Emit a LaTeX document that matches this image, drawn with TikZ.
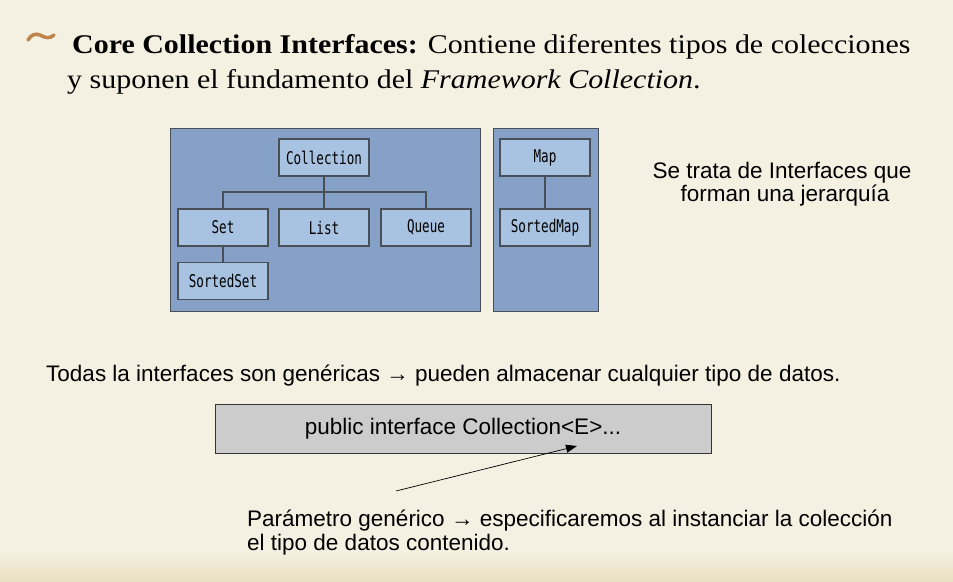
\documentclass[tikz,border=0pt]{standalone}
\usepackage{fontspec}
\setmainfont[FakeStretch=1.11]{Liberation Serif}
\newfontfamily\sansfont{Liberation Sans}
\newfontfamily\codefont[FakeStretch=0.72]{DejaVu Sans Mono}
\usetikzlibrary{arrows.meta}
\definecolor{paper}{HTML}{F5F1E2}
\definecolor{paperdark}{HTML}{E9E0C0}
\definecolor{panelblue}{HTML}{86A1C8}
\definecolor{boxblue}{HTML}{A8C2E2}
\definecolor{edgegray}{HTML}{4A4E56}
\definecolor{codegray}{HTML}{CCCCCC}
\definecolor{bullet}{HTML}{BF8449}
\tikzset{
  panel/.style={fill=panelblue, draw=edgegray, line width=0.8pt},
  iface/.style={fill=boxblue, draw=edgegray, line width=1.4pt, minimum width=90pt,
    minimum height=37pt, inner sep=0pt, font=\codefont\fontsize{17.5}{20}\selectfont},
  link/.style={draw=edgegray, line width=1.3pt},
  note/.style={font=\sansfont\fontsize{22.5}{24}\selectfont, inner sep=0pt},
  heading/.style={anchor=base west, inner sep=0pt, font=\fontsize{27}{32}\selectfont},
  codebox/.style={fill=codegray, draw=black!80, line width=0.8pt, minimum width=496pt,
    minimum height=49pt, inner sep=0pt, font=\sansfont\fontsize{22.5}{24}\selectfont},
}
\begin{document}
\begin{tikzpicture}[x=1pt,y=-1pt]
\useasboundingbox (0,0) rectangle (953,581);
% page background with a darker strip along the bottom
\fill[paper] (0,0) rectangle (953,581);
\shade[top color=paper, bottom color=paperdark] (0,552) rectangle (953,581);

% heading bullet
\draw[bullet, line width=3.5pt, line cap=round]
  (28,40) .. controls (31,35) and (35,33) .. (40,35)
  .. controls (45,38) and (50,39) .. (54,35);

% heading text
\node[heading] (title1) at (72,53)
  {\textbf{Core Collection Interfaces:} Contiene diferentes tipos de colecciones};
\node[heading] (title2) at (67,88)
  {y suponen el fundamento del \textit{Framework Collection}.};

% interface hierarchy panels
\draw[panel] (170,128) rectangle (480,311);
\draw[panel] (493,128) rectangle (598,311);

\node[iface] (coll) at (324,157.5) {Collection};
\node[iface] (set) at (223,227.5) {Set};
\node[iface] (list) at (324,227.5) {List};
\node[iface] (queue) at (426,227.5) {Queue};
\node[iface] (sset) at (223,281) {SortedSet};
\node[iface] (map) at (545,157.5) {Map};
\node[iface] (smap) at (545,227.5) {SortedMap};

\coordinate (fork) at (324,192);
\draw[link] (coll.south) -- (list.north);
\draw[link] (set.north) |- (fork) -| (queue.north);
\draw[link] (set.south) -- (sset.north);
\draw[link] (map.south) -- (smap.north);

% side remark
\node[note, anchor=base] (remark1) at (782,178) {Se trata de Interfaces que};
\node[note, anchor=base] (remark2) at (785,201) {forman una jerarquía};

% generics remark
\node[note, anchor=base west] (generic) at (46,381)
  {Todas la interfaces son genéricas → pueden almacenar cualquier tipo de datos.};

\node[codebox] (decl) at (463,429) {public interface Collection<E>...};

\node[note, anchor=base west] (param1) at (247,526)
  {Parámetro genérico → especificaremos al instanciar la colección};
\node[note, anchor=base west] (param2) at (247,550)
  {el tipo de datos contenido.};

\coordinate (tail) at (396,491);
\draw[line width=0.7pt, -{Triangle[length=11pt,width=8pt]}] (tail) -- (577,446);
\end{tikzpicture}
\end{document}
